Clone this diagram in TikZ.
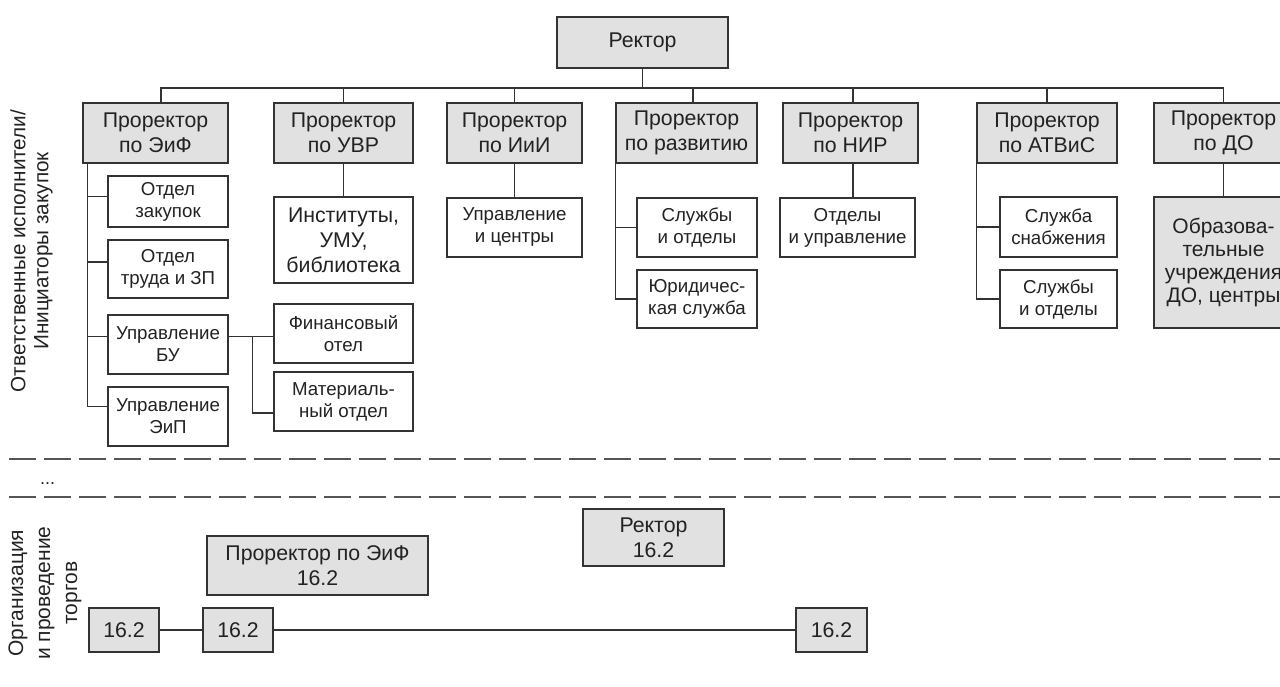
\documentclass[tikz,border=0pt]{standalone}
\usepackage{fontspec}
\setmainfont{Liberation Sans}
\usetikzlibrary{calc}
\definecolor{linec}{HTML}{333333}
\definecolor{textc}{HTML}{222222}
\definecolor{grayf}{HTML}{E1E1E1}
\definecolor{dashc}{HTML}{555555}
\tikzset{
  box/.style={draw=linec, line width=1.2pt, fill=white, align=center, inner sep=0pt, text=textc, font=\fontsize{18.7}{22}\selectfont},
  bigbox/.style={box, font=\fontsize{21.3}{25}\selectfont},
  gbox/.style={bigbox, fill=grayf},
  conn/.style={draw=linec, line width=1.2pt},
  sep/.style={draw=dashc, line width=2pt, dash pattern=on 27pt off 8pt},
  lab/.style={rotate=90, align=center, text=textc, inner sep=0pt}
}
\begin{document}
\begin{tikzpicture}[x=1pt,y=-1pt]
\useasboundingbox (0,0) rectangle (1280,686);
% top level
\node[gbox, minimum width=171pt, minimum height=51pt] (rector) at (642.5,42.5) {Ректор};
\node[gbox, minimum width=145pt, minimum height=60pt] (p1) at (155.5,133) {Проректор\\по ЭиФ};
\node[gbox, minimum width=139pt, minimum height=60pt] (p2) at (343.5,133) {Проректор\\по УВР};
\node[gbox, minimum width=135pt, minimum height=60pt] (p3) at (514.5,133) {Проректор\\по ИиИ};
\node[gbox, minimum width=141pt, minimum height=60pt] (p4) at (686.5,133) {Проректор\\по развитию};
\node[gbox, minimum width=135pt, minimum height=60pt] (p5) at (850.5,133) {Проректор\\по НИР};
\node[gbox, minimum width=140pt, minimum height=60pt] (p6) at (1047,133) {Проректор\\по АТВиС};
\node[gbox, minimum width=139pt, minimum height=60pt] (p7) at (1223.5,133) {Проректор\\по ДО};
\coordinate (bus) at (642.5,88);
\draw[conn] (rector.south) -- (rector.south |- bus);
\draw[conn] ([xshift=5.5pt]p1.north) |- (bus) -| (p7.north);
\draw[conn] (p2.north) -- (p2.north |- bus);
\draw[conn] (p3.north) -- (p3.north |- bus);
\draw[conn] ([xshift=6.5pt]p4.north) -- ([xshift=6.5pt]p4.north |- bus);
\draw[conn] ([xshift=2.5pt]p5.north) -- ([xshift=2.5pt]p5.north |- bus);
\draw[conn] (p6.north) -- (p6.north |- bus);
% column 1
\node[box, minimum width=120pt, minimum height=51pt] (c11) at (168,201.5) {Отдел\\закупок};
\node[box, minimum width=120pt, minimum height=58pt] (c12) at (168,269) {Отдел\\труда и ЗП};
\node[box, minimum width=120pt, minimum height=59pt] (c13) at (168,344.5) {Управление\\БУ};
\node[box, minimum width=120pt, minimum height=59pt] (c14) at (168,416.5) {Управление\\ЭиП};
\coordinate (j1) at ([xshift=5pt]p1.south west);
\draw[conn] (j1) |- ($(c11.north west)!0.41!(c11.south west)$);
\draw[conn] (j1) |- ($(c12.north west)!0.38!(c12.south west)$);
\draw[conn] (j1) |- ($(c13.north west)!0.37!(c13.south west)$);
\draw[conn] (j1) |- ($(c14.north west)!0.34!(c14.south west)$);
% column 2
\node[bigbox, minimum width=139pt, minimum height=86pt] (c21) at (343.5,240) {Институты,\\УМУ,\\библиотека};
\node[box, minimum width=139pt, minimum height=59pt] (c22) at (343.5,333.5) {Финансовый\\отел};
\node[box, minimum width=139pt, minimum height=59pt] (c23) at (343.5,401.5) {Материаль-\\ный отдел};
\draw[conn] (p2.south) -- (c21.north);
\coordinate (k) at ($(c13.north east)!0.37!(c13.south east)$);
\draw[conn] (k) -- (k -| c22.west);
\coordinate (v) at ([xshift=24pt]k);
\draw[conn] (v) |- ($(c23.north west)!0.69!(c23.south west)$);
% column 3
\node[box, minimum width=135pt, minimum height=59pt] (c31) at (514.5,227.5) {Управление\\и центры};
\draw[conn] (p3.south) -- (p3.south |- c31.north);
% column 4
\node[box, minimum width=120pt, minimum height=59pt] (c41) at (697,227.5) {Службы\\и отделы};
\node[box, minimum width=120pt, minimum height=58pt] (c42) at (697,299) {Юридичес-\\кая служба};
\draw[conn] (p4.south west) |- (c41.west);
\draw[conn] (p4.south west) |- (c42.west);
% column 5
\node[box, minimum width=135pt, minimum height=59pt] (c51) at (847.5,227.5) {Отделы\\и управление};
\draw[conn] ([xshift=2.5pt]p5.south) -- ([xshift=2.5pt]p5.south |- c51.north);
% column 6
\node[box, minimum width=117pt, minimum height=60pt] (c61) at (1058.5,227) {Служба\\снабжения};
\node[box, minimum width=117pt, minimum height=58pt] (c62) at (1058.5,299) {Службы\\и отделы};
\draw[conn] (p6.south west) |- (c61.west);
\draw[conn] (p6.south west) |- (c62.west);
% column 7
\node[gbox, font=\fontsize{21}{23}\selectfont, minimum width=139pt, minimum height=131pt] (c71) at (1223.5,262.5) {Образова-\\тельные\\учреждения\\ДО, центры};
\draw[conn] (p7.south) -- (c71.north);
% left label
\node[lab, font=\fontsize{20.7}{23}\selectfont] (lab1) at (31.5,251) {Ответственные исполнители/\\Инициаторы закупок};
% separators
\coordinate (s1a) at (9,459); \coordinate (s1b) at (1280,459);
\coordinate (s2a) at (9,497); \coordinate (s2b) at (1280,497);
\draw[sep] (s1a) -- (s1b);
\draw[sep] (s2a) -- (s2b);
\node[text=textc, font=\fontsize{18}{20}\selectfont, inner sep=0pt, anchor=base west] (dots) at (40,484) {...};
% bottom
\node[gbox, minimum width=141pt, minimum height=57pt] (b1) at (653.5,537.5) {Ректор\\16.2};
\node[gbox, minimum width=221pt, minimum height=59pt] (b2) at (317.5,565.5) {Проректор по ЭиФ\\16.2};
\node[gbox, minimum width=70pt, minimum height=44pt] (b3) at (124,630) {16.2};
\node[gbox, minimum width=70pt, minimum height=44pt] (b4) at (238,630) {16.2};
\node[gbox, minimum width=71pt, minimum height=44pt] (b5) at (831.5,630) {16.2};
\draw[conn] (b3) -- (b4);
\draw[conn] (b4) -- (b5);
\node[lab, font=\fontsize{21}{27}\selectfont] (lab2) at (45,593) {Организация\\и проведение\\торгов};
\end{tikzpicture}
\end{document}
